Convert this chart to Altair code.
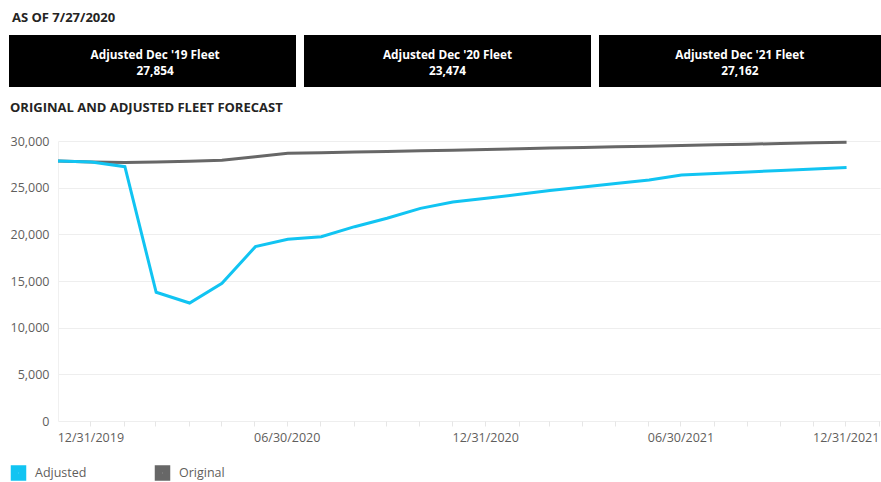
import altair as alt
import pandas as pd

# ---------------- data ----------------
months = [
    "2019-12-01", "2020-01-01", "2020-02-01", "2020-03-01", "2020-04-01",
    "2020-05-01", "2020-06-01", "2020-07-01", "2020-08-01", "2020-09-01",
    "2020-10-01", "2020-11-01", "2020-12-01", "2021-01-01", "2021-02-01",
    "2021-03-01", "2021-04-01", "2021-05-01", "2021-06-01", "2021-07-01",
    "2021-08-01", "2021-09-01", "2021-10-01", "2021-11-01", "2021-12-01",
]
adjusted = [
    27854, 27750, 27250, 13790, 12640,
    14750, 18680, 19470, 19750, 20820,
    21720, 22780, 23474, 23860, 24300,
    24700, 25080, 25450, 25820, 26360,
    26520, 26680, 26840, 27000, 27162,
]
original = [
    27854, 27760, 27700, 27760, 27820,
    27950, 28320, 28680, 28740, 28810,
    28880, 28950, 29020, 29090, 29160,
    29240, 29310, 29380, 29450, 29520,
    29590, 29660, 29730, 29800, 29870,
]
series_names = ["Adjusted", "Original"]
series_colors = ["#11C4F2", "#676767"]

card_titles = ["Adjusted Dec '19 Fleet", "Adjusted Dec '20 Fleet", "Adjusted Dec '21 Fleet"]
card_values = [27854, 23474, 27162]

as_of_text = "AS OF 7/27/2020"
chart_title = "ORIGINAL AND ADJUSTED FLEET FORECAST"
y_ticks = [0, 5000, 10000, 15000, 20000, 25000, 30000]
x_ticks = [alt.DateTime(year=d.year, month=d.month, date=d.day)
           for d in pd.date_range("2019-12-31", "2021-12-31", freq="ME")]

FONT = "Open Sans"
LABEL_COLOR = "#5f5e5c"
TITLE_COLOR = "#252423"

# ---------------- tables ----------------
dates = [m + "T00:00:00" for m in months]
adj_df = pd.DataFrame({"date": dates, "value": adjusted, "series": series_names[0]})
orig_df = pd.DataFrame({"date": dates, "value": original, "series": series_names[1]})
cards_df = pd.DataFrame({
    "card": card_titles,
    "label": [t + "\n" + f"{v:,}" for t, v in zip(card_titles, card_values)],
})

x_enc = alt.X(
    "date:T",
    scale=alt.Scale(domain=[alt.DateTime(year=2019, month=12, date=1),
                            alt.DateTime(year=2022, month=1, date=1)]),
    axis=alt.Axis(
        values=x_ticks,
        labelExpr="(month(datum.value) == 5 || month(datum.value) == 11) ? timeFormat(datum.value, '%m/%d/%Y') : ''",
        labelFlush=5,
        labelOverlap=False,
        grid=False,
        domain=False,
        ticks=True,
        tickColor="#e6e6e6",
        tickSize=5,
        labelPadding=5,
        labelFont=FONT,
        labelFontSize=12.5,
        labelColor=LABEL_COLOR,
        title=None,
    ),
)
y_enc = alt.Y(
    "value:Q",
    scale=alt.Scale(domain=[0, 30000], nice=False),
    axis=alt.Axis(
        values=y_ticks,
        format=",.0f",
        grid=True,
        gridColor="#eeeeee",
        domain=True,
        domainColor="#f0f0f0",
        ticks=False,
        labelPadding=9,
        labelFont=FONT,
        labelFontSize=12.5,
        labelColor=LABEL_COLOR,
        title=None,
    ),
)
color_enc = alt.Color(
    "series:N",
    scale=alt.Scale(domain=series_names, range=series_colors),
    legend=alt.Legend(
        title=None,
        orient="none",
        legendX=-47.5,
        legendY=324,
        direction="horizontal",
        symbolType="square",
        symbolSize=64,
        symbolStrokeWidth=7.5,
        labelOffset=8.5,
        columnPadding=57,
        labelFont=FONT,
        labelFontSize=12.5,
        labelColor=LABEL_COLOR,
        padding=0,
    ),
)

orig_line = alt.Chart(orig_df).mark_line(strokeWidth=3).encode(x=x_enc, y=y_enc, color=color_enc)
adj_line = alt.Chart(adj_df).mark_line(strokeWidth=3).encode(x=x_enc, y=y_enc, color=color_enc)
lines = alt.layer(orig_line, adj_line)

card_x = alt.X(
    "card:N",
    sort=card_titles,
    scale=alt.Scale(range=[-49, 828], paddingInner=0.0271, paddingOuter=0),
    axis=None,
)
card_rects = alt.Chart(cards_df).mark_rect(color="black").encode(
    x=card_x, y=alt.value(-106), y2=alt.value(-54)
)
card_texts = alt.Chart(cards_df).mark_text(
    color="white", font=FONT, fontSize=11.8, fontWeight="bold",
    lineBreak="\n", lineHeight=16, align="center", baseline="middle",
).encode(x=card_x, y=alt.value(-86), text="label:N")

as_of = alt.Chart(pd.DataFrame({"t": [as_of_text]})).mark_text(
    align="left", baseline="middle", font=FONT, fontSize=13, fontWeight="bold", color=TITLE_COLOR,
).encode(x=alt.value(-46), y=alt.value(-123.5), text="t:N")
section_title = alt.Chart(pd.DataFrame({"t": [chart_title]})).mark_text(
    align="left", baseline="middle", font=FONT, fontSize=13, fontWeight="bold", color=TITLE_COLOR,
).encode(x=alt.value(-48), y=alt.value(-33.5), text="t:N")

chart = alt.layer(
    card_rects, card_texts, as_of, section_title, lines
).resolve_scale(x="independent").properties(
    width=822,
    height=280,
    autosize=alt.AutoSizeParams(type="none"),
    padding={"left": 58, "top": 141, "right": 1, "bottom": 61},
    background="white",
).configure_view(stroke=None)

chart.save("out.html", embed_options={"renderer": "svg", "actions": False})
